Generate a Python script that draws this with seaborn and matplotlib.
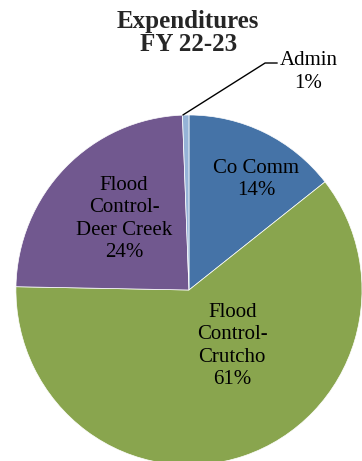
import matplotlib
matplotlib.use("Agg")
import matplotlib.pyplot as plt
import seaborn as sns

categories = ["Co Comm", "Flood\nControl-\nCrutcho", "Flood\nControl-\nDeer Creek", "Admin"]
shares = [14.4, 60.9, 24.1, 0.6]
pct_labels = ["14%", "61%", "24%", "1%"]
colors = ["#4573A7", "#89A54E", "#71588F", "#95B3D7"]

sns.set_theme(style="white")
plt.rcParams["font.family"] = ["Liberation Serif", "DejaVu Serif"]

fig = plt.figure(figsize=(3.62, 4.61), dpi=100)
ax = fig.add_axes([0, 0, 1, 1])

wedges, texts = ax.pie(shares, colors=colors, startangle=90, counterclock=False,
                       wedgeprops=dict(edgecolor="white", linewidth=0.5))

# label positions inside the pie (radius = 1)
label_pos = [(0.39, 0.63), (0.25, -0.32), (-0.375, 0.405), (0.69, 1.246)]
for name, pct, (x, y) in zip(categories, pct_labels, label_pos):
    ax.text(x, y, name + "\n" + pct, ha="center", va="center",
            fontsize=15, linespacing=1.25, color="black")

# leader line for the small slice
ax.plot([-0.035, 0.44, 0.51], [1.0, 1.297, 1.297], color="black", lw=1)

# pie drawn slightly taller than wide, like the original
ax.set_xlim(-1.092, 1.0)
ax.set_ylim(-0.977, 1.657)
ax.set_aspect("auto")
ax.axis("off")

fig.text(0.52, 1 - 33 / 461, "Expenditures\nFY 22-23", ha="center", va="center",
         fontsize=18, fontweight="bold", linespacing=1.05)

fig.savefig("out.png", dpi=100)
